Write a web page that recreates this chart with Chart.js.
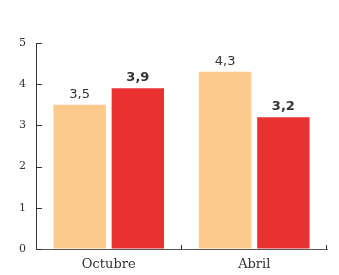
<!DOCTYPE html>
<html><head><meta charset="utf-8">
<script src="https://cdn.jsdelivr.net/npm/chart.js@4/dist/chart.umd.min.js"></script>
<style>html,body{margin:0;padding:0;background:#fff}#w{width:339px;height:275px}</style>
</head><body><div id="w"><canvas id="c"></canvas></div>
<script>
const categories = ["Octubre", "Abril"];
const seriesA = [3.5, 4.3];
const seriesB = [3.9, 3.2];
const yTicks = [0, 1, 2, 3, 4, 5];
const boldB = true;

const labelPlugin = {
  id: 'vals',
  afterDatasetsDraw(chart) {
    const ctx = chart.ctx;
    chart.data.datasets.forEach((ds, di) => {
      const meta = chart.getDatasetMeta(di);
      meta.data.forEach((bar, i) => {
        ctx.save();
        ctx.fillStyle = '#333';
        ctx.font = (di === 1 && boldB ? 'bold ' : '') + '13px "DejaVu Sans", sans-serif';
        ctx.textAlign = 'center';
        ctx.textBaseline = 'bottom';
        ctx.fillText(String(ds.data[i]).replace('.', ','), bar.x, bar.y - 4);
        ctx.restore();
      });
    });
  }
};

const tickPlugin = {
  id: 'inTicks',
  afterDraw(chart) {
    const ctx = chart.ctx;
    const y = chart.scales.y, x = chart.scales.x;
    ctx.save();
    ctx.strokeStyle = '#333';
    ctx.lineWidth = 1;
    ctx.beginPath();
    y.ticks.forEach(t => {
      const py = Math.round(y.getPixelForValue(t.value)) + 0.5;
      ctx.moveTo(x.left, py); ctx.lineTo(x.left + 6, py);
    });
    const n = x.ticks.length;
    for (let i = 1; i <= n; i++) {
      const px = Math.round(x.left + i * (x.right - x.left) / n) - 0.5;
      ctx.moveTo(px, x.top); ctx.lineTo(px, x.top - 4);
    }
    ctx.stroke();
    ctx.restore();
  }
};

new Chart(document.getElementById('c'), {
  type: 'bar',
  data: {
    labels: categories,
    datasets: [
      { data: seriesA, backgroundColor: '#FDCA8D', categoryPercentage: 0.8, barPercentage: 0.9 },
      { data: seriesB, backgroundColor: '#E83130', categoryPercentage: 0.8, barPercentage: 0.9 }
    ]
  },
  options: {
    responsive: true, maintainAspectRatio: false, animation: false,
    layout: { padding: { top: 43, right: 12, left: 0, bottom: 0 } },
    plugins: { legend: { display: false }, tooltip: { enabled: false } },
    scales: {
      x: {
        afterFit(s) { s.height = 26; },
        grid: { display: true, drawOnChartArea: false, drawTicks: false, color: '#333' },
        border: { color: '#555', width: 1 },
        ticks: { color: '#333', font: { family: '"DejaVu Serif", serif', size: 13 }, padding: 8 }
      },
      y: {
        min: 0, max: 5,
        afterFit(s) { s.width = 36; },
        afterBuildTicks(s) { s.ticks = yTicks.map(v => ({ value: v })); },
        grid: { display: true, drawOnChartArea: false, drawTicks: false, color: '#333' },
        border: { color: '#333', width: 1 },
        ticks: { color: '#333', font: { family: '"DejaVu Serif", serif', size: 11 }, padding: 10 }
      }
    }
  },
  plugins: [labelPlugin, tickPlugin]
});
</script></body></html>
